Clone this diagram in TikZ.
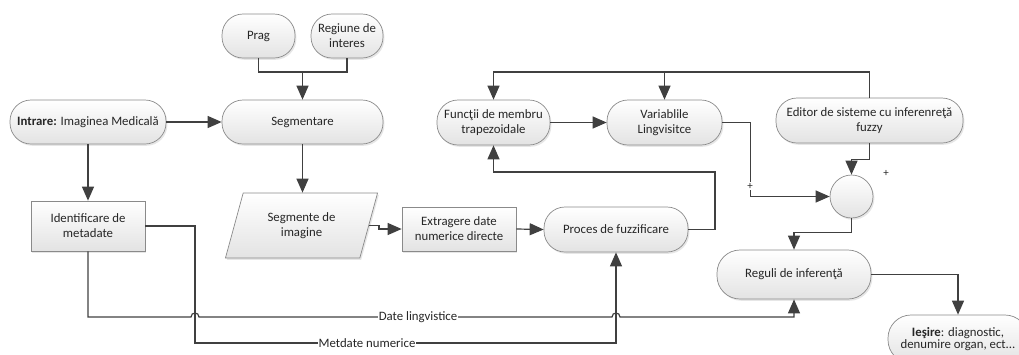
\documentclass[tikz,border=0pt]{standalone}
\usepackage{fontspec}
\setmainfont{Carlito}
\usetikzlibrary{arrows.meta,shapes.geometric,shadows}
\definecolor{linec}{HTML}{404040}
\definecolor{edgec}{HTML}{8A8A8A}
\definecolor{txtc}{HTML}{262626}
\tikzset{
  base/.style={draw=edgec, line width=0.7pt, top color=white, bottom color=black!11,
    text=txtc, font=\fontsize{12.8}{15}\selectfont, align=center, inner sep=2pt,
    drop shadow={opacity=0.2, shadow xshift=1.4pt, shadow yshift=-1.8pt}},
  pill/.style={base, rounded corners=21pt},
  rectbox/.style={base},
  wire/.style={draw=linec, line width=1.2pt},
  arr/.style={wire, -{Triangle[length=14pt,width=12pt,fill=linec]}},
  lab/.style={fill=white, inner sep=1pt, text=txtc, font=\fontsize{12.8}{15}\selectfont},
  plus/.style={text=txtc, font=\fontsize{11}{11}\selectfont, inner sep=0.6pt},
}
\begin{document}
\begin{tikzpicture}[x=1pt,y=1pt]
\useasboundingbox (0,0) rectangle (1019,-354);

% nodes (y measured downward from the top edge, hence the minus signs)
\node[pill, minimum width=73pt, minimum height=44pt] (prag) at (258.5,-36) {Prag};
\node[pill, minimum width=72pt, minimum height=44pt] (regiune) at (347,-36) {Regiune de\\interes};
\node[pill, minimum width=156pt, minimum height=44pt] (intrare) at (88,-122) {\textbf{Intrare:} Imaginea Medicală};
\node[pill, minimum width=161pt, minimum height=44pt] (segm) at (302.5,-122) {Segmentare};
\node[rectbox, minimum width=114pt, minimum height=50pt] (ident) at (88,-226) {Identificare de\\metadate};
\node[base, trapezium, trapezium left angle=70, trapezium right angle=110, trapezium stretches=true,
      minimum width=153pt, minimum height=65pt] (segmente) at (301.5,-225.5) {Segmente de\\imagine};
\node[rectbox, minimum width=114pt, minimum height=44pt] (extr) at (459,-229) {Extragere date\\numerice directe};
\node[pill, minimum width=144pt, minimum height=45pt] (proces) at (616,-229.5) {Proces de fuzzificare};
\node[pill, minimum width=113pt, minimum height=45pt] (functii) at (493.5,-122.5) {Funcţii de membru\\trapezoidale};
\node[pill, minimum width=115pt, minimum height=45pt] (varl) at (664.5,-122.5) {Variablile\\Lingvisitce};
\node[pill, minimum width=187pt, minimum height=45pt] (editor) at (869.5,-120.5) {Editor de sisteme cu inferenreţă\\fuzzy};
\node[base, circle, minimum size=43pt, inner sep=0pt] (sum) at (851.5,-196.5) {};
\node[pill, minimum width=154pt, minimum height=49pt, rounded corners=23pt] (reguli) at (794,-274.5) {Reguli de inferenţă};
\node[pill, minimum width=140pt, minimum height=48pt, rounded corners=23pt] (iesire) at (958,-339) {\textbf{Ieşire}: diagnostic,\\[-3pt]denumire organ, ect...};

% segmentation inputs
\coordinate (join) at (302.5,-72);
\draw[wire] (prag.south) |- (join);
\draw[wire] (regiune.south) |- (join);
\draw[arr] (join) -- (segm.north);
\draw[arr] (intrare.east) -- (segm.west);
\draw[arr] (intrare.south) -- (ident.north);
\draw[arr] (segm.south) -- (segm.south |- segmente.north);
\draw[arr] (segmente.east) -- ++(10,0) |- (extr.west);
\draw[arr] (extr.east) -- (proces.west);

% fuzzification loop
\coordinate (fb) at (715,-172);
\draw[arr] (proces.east) -| (fb) -| (functii.south);
\draw[arr] (functii.east) -- (varl.west);
\coordinate (ty) at (0,-72);
\draw[arr] (editor.north) |- (functii.north |- ty) -- (functii.north);
\draw[arr] (varl.north |- ty) -- (varl.north);
\draw[arr] (varl.east) -- ++(28,0) |- (sum.west);
\node[plus, fill=white] at (750,-186) {+};
\node[plus] at (886,-173) {+};
\draw[arr] (editor.south) -- ++(0,-16) -| (sum.north);
\draw[arr] (sum.south) -- ++(0,-14) -| (reguli.north);
\draw[arr] (reguli.east) -| (iesire.north);

% metadata branches, the upper one hopping over the crossing wires
\draw[arr] (ident.east) -| (195,-343) -| (proces.south);
\draw[arr] (ident.south) |- (191,-317) .. controls (191,-311.7) and (199,-311.7) .. (199,-317)
   -- (612,-317) .. controls (612,-311.7) and (620,-311.7) .. (620,-317) -| (reguli.south);
\node[lab] at (418,-317) {Date lingvistice};
\node[lab] at (367,-343) {Metdate numerice};
\end{tikzpicture}
\end{document}
